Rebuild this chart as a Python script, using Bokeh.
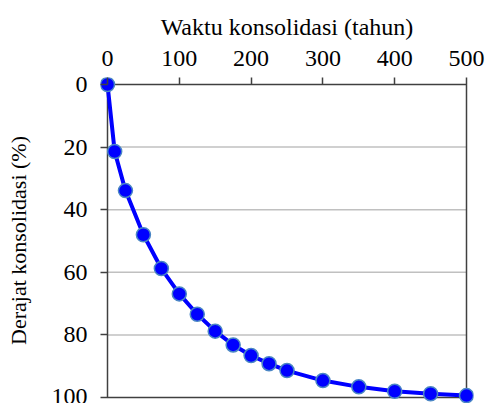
from bokeh.plotting import figure
from bokeh.models import Range1d, FixedTicker
from bokeh.embed import file_html
from bokeh.resources import INLINE

# Data
waktu = [0, 10, 25, 50, 75, 100, 125, 150, 175, 200, 225, 250, 300, 350, 400, 450, 500]
derajat = [0, 21.4, 33.9, 48.0, 58.8, 66.9, 73.4, 78.8, 83.2, 86.6, 89.2, 91.4, 94.6, 96.6, 98.0, 98.8, 99.4]
x_ticks = [0, 100, 200, 300, 400, 500]
y_ticks = [0, 20, 40, 60, 80, 100]
x_min, x_max = 0, 500
y_min, y_max = 0, 100

FONT = "Liberation Serif"

# small padding around the data box so the end markers are not clipped
xpad = 9.75
ytop_pad = 2.24
ybot_pad = 1.92

p = figure(width=486, height=403, output_backend="svg", toolbar_location=None,
           x_axis_location="above",
           x_range=Range1d(x_min - xpad, x_max + xpad),
           y_range=Range1d(y_max + ybot_pad, y_min - ytop_pad),
           min_border_left=100, min_border_top=77, min_border_right=13, min_border_bottom=0)

# horizontal grid lines inside the data box
grid_y = [t for t in y_ticks if t not in (y_min, y_max)]
p.segment(x0=[x_min] * len(grid_y), y0=grid_y, x1=[x_max] * len(grid_y), y1=grid_y,
          line_color="#c0c0c0", line_width=1.5)

# data box outline
p.multi_line(xs=[[x_min, x_max, x_max, x_min, x_min]], ys=[[y_min, y_min, y_max, y_max, y_min]],
             line_color="#404040", line_width=1.5)

p.line(waktu, derajat, line_color="#0000ff", line_width=4)
p.scatter(waktu, derajat, size=14, fill_color="#0000ff", line_color="#4a86c5", line_width=1.5)

p.xaxis.ticker = FixedTicker(ticks=x_ticks)
p.yaxis.ticker = FixedTicker(ticks=y_ticks)
p.xaxis.axis_label = "Waktu konsolidasi (tahun)"
p.yaxis.axis_label = "Derajat konsolidasi (%)"

for ax in (p.xaxis, p.yaxis):
    ax.axis_label_text_font = FONT
    ax.axis_label_text_font_style = "normal"
    ax.axis_label_text_color = "#000000"
    ax.major_label_text_font = FONT
    ax.major_label_text_font_size = "24px"
    ax.major_label_text_color = "#000000"
    ax.minor_tick_line_color = None
    ax.major_tick_in = 7
    ax.major_tick_out = 0
    ax.major_tick_line_color = "#404040"
    ax.major_tick_line_width = 1.5
    ax.axis_line_color = None

p.xaxis.axis_label_text_font_size = "24px"
p.yaxis.axis_label_text_font_size = "22px"
p.xaxis.major_label_standoff = 12
p.yaxis.major_label_standoff = 13
p.xaxis.axis_label_standoff = 8
p.yaxis.axis_label_standoff = 18

p.xgrid.grid_line_color = None
p.ygrid.grid_line_color = None
p.outline_line_color = None

open("out.html", "w").write(file_html(p, INLINE))
